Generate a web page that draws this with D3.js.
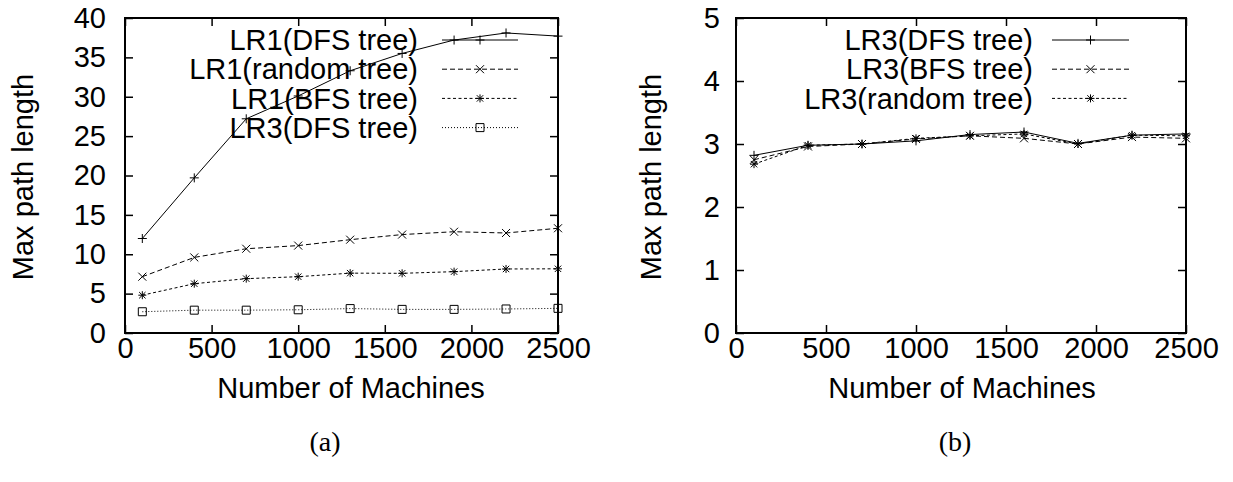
<!DOCTYPE html>
<html>
<head>
<meta charset="utf-8">
<script src="https://cdn.jsdelivr.net/npm/d3@7"></script>
<style>
  html, body { margin: 0; padding: 0; background: #fff; }
  svg { display: block; }
  text { font-family: "Liberation Sans", Arial, sans-serif; fill: #000; }
</style>
</head>
<body>
<svg id="chart" width="1233" height="482"></svg>
<script>
// Machine counts on the x axis (shared by both panels)
const machines = [100, 400, 700, 1000, 1300, 1600, 1900, 2200, 2500];

// Panel (a): max path length
const lr1Dfs    = [12.0, 19.7, 27.2, 30.1, 33.3, 35.5, 37.2, 38.1, 37.7];
const lr1Random = [7.15, 9.6, 10.7, 11.1, 11.85, 12.5, 12.86, 12.7, 13.3];
const lr1Bfs    = [4.8, 6.26, 6.9, 7.15, 7.6, 7.58, 7.79, 8.13, 8.15];
const lr3DfsA   = [2.7, 2.9, 2.9, 2.95, 3.1, 3.0, 3.0, 3.05, 3.13];

// Panel (b): max path length for LR3
const lr3Dfs    = [2.82, 2.98, 3.0, 3.05, 3.15, 3.19, 3.01, 3.14, 3.16];
const lr3Bfs    = [2.75, 2.96, 3.0, 3.08, 3.13, 3.09, 3.0, 3.11, 3.09];
const lr3Random = [2.68, 2.98, 3.0, 3.09, 3.13, 3.16, 3.0, 3.14, 3.13];

// Tick labels
const xTicks  = [0, 500, 1000, 1500, 2000, 2500];
const yTicksA = [0, 5, 10, 15, 20, 25, 30, 35, 40];
const yTicksB = [0, 1, 2, 3, 4, 5];

const svg = d3.select("#chart");
const FS = 29;        // font size

// Stroke-drawn point symbols
const markers = {
  plus: r => `M${-r},0H${r}M0,${-r}V${r}`,
  cross: r => `M${-r},${-r}L${r},${r}M${-r},${r}L${r},${-r}`,
  star: r => `M${-r},0H${r}M0,${-r}V${r}M${-r*0.8},${-r*0.8}L${r*0.8},${r*0.8}M${-r*0.8},${r*0.8}L${r*0.8},${-r*0.8}`,
  square: r => `M${-r},${-r}H${r}V${r}H${-r}Z`
};

function label(g, x, y, str, anchor, rotate) {
  return g.append("text")
    .attr("transform", `translate(${x},${y})` + (rotate ? " rotate(-90)" : ""))
    .attr("text-anchor", anchor)
    .attr("dy", "0.35em")
    .style("font-size", FS + "px")
    .text(str);
}

function styleAxis(a, withText) {
  a.select(".domain").remove();
  a.selectAll("line").attr("stroke", "#000").attr("stroke-width", 1.5);
  if (withText) {
    a.selectAll("text").style("font-size", FS + "px")
      .attr("font-family", null).attr("fill", "#000");
  }
}

function panel(cfg) {
  const g = svg.append("g");
  const x = d3.scaleLinear().domain([0, 2500]).range([cfg.left, cfg.right]);
  const y = d3.scaleLinear().domain(cfg.yDomain).range([333, 18]);
  const fmt = d3.format("d");

  // inward ticks on all four sides
  const tick = 8;
  g.append("g").attr("transform", `translate(0,${y.range()[0]})`)
    .call(d3.axisBottom(x).tickValues(xTicks).tickFormat(fmt)
      .tickSizeInner(-tick).tickSizeOuter(0).tickPadding(4))
    .call(a => styleAxis(a, true));
  g.append("g").attr("transform", `translate(0,${y.range()[1]})`)
    .call(d3.axisTop(x).tickValues(xTicks).tickSizeInner(-tick).tickSizeOuter(0).tickFormat(""))
    .call(a => styleAxis(a, false));
  g.append("g").attr("transform", `translate(${cfg.left},0)`)
    .call(d3.axisLeft(y).tickValues(cfg.yTicks).tickFormat(fmt)
      .tickSizeInner(-tick).tickSizeOuter(0).tickPadding(cfg.yPad))
    .call(a => styleAxis(a, true));
  g.append("g").attr("transform", `translate(${cfg.right},0)`)
    .call(d3.axisRight(y).tickValues(cfg.yTicks).tickSizeInner(-tick).tickSizeOuter(0).tickFormat(""))
    .call(a => styleAxis(a, false));

  // frame
  g.append("rect")
    .attr("x", cfg.left).attr("y", y.range()[1])
    .attr("width", cfg.right - cfg.left).attr("height", y.range()[0] - y.range()[1])
    .attr("fill", "none").attr("stroke", "#000").attr("stroke-width", 2);

  const line = d3.line().x((d, i) => x(machines[i])).y(d => y(d));
  const size = m => (m === "plus" ? 4.5 : 4);

  // legend
  cfg.series.forEach((s, k) => {
    const ly = 40 + k * 29.2;
    label(g, cfg.legText, ly, s.name, "end", false);
    g.append("line")
      .attr("x1", cfg.legLine[0]).attr("x2", cfg.legLine[1])
      .attr("y1", ly).attr("y2", ly)
      .attr("stroke", "#000").attr("stroke-width", 1)
      .attr("stroke-dasharray", s.dash);
    g.append("path")
      .attr("transform", `translate(${(cfg.legLine[0] + cfg.legLine[1]) / 2},${ly})`)
      .attr("d", markers[s.marker](size(s.marker)))
      .attr("fill", "none").attr("stroke", "#000").attr("stroke-width", 1);
  });

  // series
  cfg.series.forEach(s => {
    g.append("path")
      .datum(s.values)
      .attr("d", line)
      .attr("fill", "none").attr("stroke", "#000").attr("stroke-width", 1)
      .attr("stroke-dasharray", s.dash);
    g.selectAll(null).data(s.values).enter().append("path")
      .attr("transform", (d, i) => `translate(${x(machines[i])},${y(d)})`)
      .attr("d", markers[s.marker](size(s.marker)))
      .attr("fill", "none").attr("stroke", "#000").attr("stroke-width", 1);
  });

  // axis titles and panel caption
  label(g, cfg.yTitleX, 177, "Max path length", "middle", true);
  label(g, cfg.xTitleX, 388, "Number of Machines", "middle", false);
  g.append("text")
    .attr("transform", `translate(${cfg.caption},441)`)
    .attr("text-anchor", "middle").attr("dy", "0.35em")
    .style("font-family", "'Liberation Serif', 'DejaVu Serif', serif")
    .style("font-size", "28px")
    .text(cfg.captionText);
}

panel({
  left: 125, right: 558, yDomain: [0, 40], yTicks: yTicksA, yPad: 19,
  legText: 418, legLine: [442, 518], yTitleX: 23, xTitleX: 351,
  caption: 325, captionText: "(a)",
  series: [
    { name: "LR1(DFS tree)", values: lr1Dfs, marker: "plus", dash: null },
    { name: "LR1(random tree)", values: lr1Random, marker: "cross", dash: "5,3" },
    { name: "LR1(BFS tree)", values: lr1Bfs, marker: "star", dash: "3,2.5" },
    { name: "LR3(DFS tree)", values: lr3DfsA, marker: "square", dash: "1,2" }
  ]
});

panel({
  left: 736, right: 1186, yDomain: [0, 5], yTicks: yTicksB, yPad: 16,
  legText: 1033, legLine: [1052, 1129], yTitleX: 651, xTitleX: 962,
  caption: 955, captionText: "(b)",
  series: [
    { name: "LR3(DFS tree)", values: lr3Dfs, marker: "plus", dash: null },
    { name: "LR3(BFS tree)", values: lr3Bfs, marker: "cross", dash: "5,3" },
    { name: "LR3(random tree)", values: lr3Random, marker: "star", dash: "3,2.5" }
  ]
});
</script>
</body>
</html>
